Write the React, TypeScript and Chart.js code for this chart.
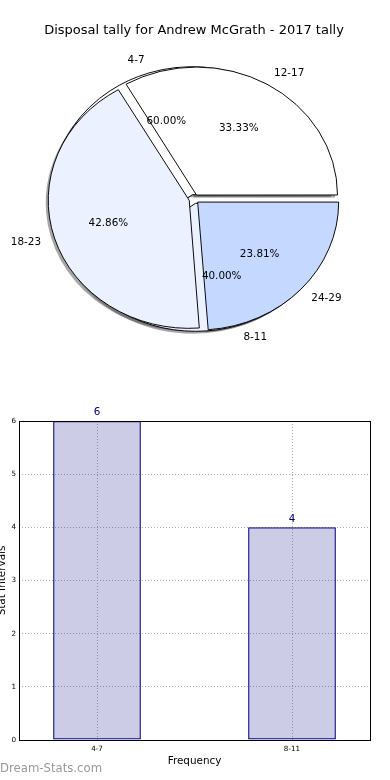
import React, { useEffect, useRef } from 'react';
import { Chart, registerables } from 'chart.js';

Chart.register(...registerables);

// ---------- data ----------
const TITLE = 'Disposal tally for Andrew McGrath - 2017 tally';
const PIE_A_LABELS = ['4-7', '8-11'];
const PIE_A_VALUES = [6, 4];
const PIE_B_LABELS = ['12-17', '18-23', '24-29'];
const PIE_B_VALUES = [7, 9, 5];
const BAR_CATEGORIES = ['4-7', '8-11'];
const BAR_VALUES = [6, 4];
const Y_TICKS = [0, 1, 2, 3, 4, 5, 6];
const X_TITLE = 'Frequency';
const Y_TITLE = 'Stat Intervals';
const WATERMARK = 'Dream-Stats.com';

// ---------- style ----------
const FONT = '"DejaVu Sans", "Liberation Sans", sans-serif';
const PIE_COLORS = ['#ffffff', '#ebf1ff', '#c5d8ff'];
const ELLIPSE_Y = 128 / 141;
const EXPLODE = 20; // chart.js offset, drawn as offset/4 px

function ellipse(ctx: any, cx: number, cy: number) {
  ctx.translate(cx, cy);
  ctx.scale(1, ELLIPSE_Y);
  ctx.translate(-cx, -cy);
}

const piePlugin = {
  id: 'pieGeom',
  afterDatasetsUpdate(chart: any) {
    const m0 = chart.getDatasetMeta(0);
    const R = m0.controller.outerRadius;
    const cx = m0.data[0].x;
    const cy = m0.data[0].y;
    chart.data.datasets.forEach((_: any, d: number) => {
      const meta = chart.getDatasetMeta(d);
      meta.data.forEach((el: any) => {
        const circ = el.endAngle - el.startAngle;
        const off = ((el.options && el.options.offset) || 0) / 4;
        const fix = 1 - Math.sin(Math.min(Math.PI, circ));
        el.x = cx;
        el.y = cy;
        el.innerRadius = 0;
        el.outerRadius = R - off * fix;
      });
    });
    chart.$pieGeom = { cx, cy, R };
  },
  beforeDatasetsDraw(chart: any) {
    const ctx = chart.ctx;
    const { cx, cy, R } = chart.$pieGeom;
    ctx.save();
    ctx.translate(-2.5, 2.5);
    ellipse(ctx, cx, cy);
    ctx.fillStyle = 'rgba(77,77,77,0.5)';
    for (let d = chart.data.datasets.length - 1; d >= 0; d--) {
      chart.getDatasetMeta(d).data.forEach((el: any) => {
        const a = (el.startAngle + el.endAngle) / 2;
        const s = ((el.options && el.options.offset) || 0) / 4;
        const ox = cx + Math.cos(a) * s;
        const oy = cy + Math.sin(a) * s;
        ctx.beginPath();
        ctx.moveTo(ox, oy);
        ctx.arc(ox, oy, R, el.startAngle, el.endAngle);
        ctx.closePath();
        ctx.fill();
      });
    }
    ctx.restore();
    ctx.save();
    ellipse(ctx, cx, cy);
  },
  afterDatasetsDraw(chart: any) {
    const ctx = chart.ctx;
    ctx.restore();
    const { cx, cy, R } = chart.$pieGeom;
    ctx.save();
    ctx.fillStyle = '#000';
    ctx.font = `10.4px ${FONT}`;
    ctx.textBaseline = 'middle';
    chart.data.datasets.forEach((ds: any, d: number) => {
      const total = ds.data.reduce((p: number, v: number) => p + v, 0);
      chart.getDatasetMeta(d).data.forEach((el: any, i: number) => {
        const a = (el.startAngle + el.endAngle) / 2;
        const s = ((el.options && el.options.offset) || 0) / 4;
        const c = Math.cos(a);
        const sn = Math.sin(a);
        const lx = cx + c * (1.1 * R + s);
        const ly = cy + sn * (1.1 * R + s) * ELLIPSE_Y;
        ctx.textAlign = c > 0 ? 'left' : 'right';
        ctx.fillText(ds.sliceLabels[i], lx, ly);
        const px = cx + c * (0.6 * R + s);
        const py = cy + sn * (0.6 * R + s) * ELLIPSE_Y;
        ctx.textAlign = 'center';
        ctx.fillText(((ds.data[i] / total) * 100).toFixed(2) + '%', px, py);
      });
    });
    ctx.restore();
  },
};

const barPlugin = {
  id: 'barDeco',
  afterDraw(chart: any) {
    const ctx = chart.ctx;
    const { left, top, right, bottom } = chart.chartArea;
    ctx.save();
    ctx.strokeStyle = '#000';
    ctx.lineWidth = 1;
    ctx.strokeRect(Math.round(left) + 0.5, Math.round(top) + 0.5, Math.round(right - left), Math.round(bottom - top));
    ctx.fillStyle = '#000080';
    ctx.font = `10.4px ${FONT}`;
    ctx.textAlign = 'center';
    ctx.textBaseline = 'middle';
    chart.getDatasetMeta(0).data.forEach((el: any, i: number) => {
      ctx.fillText(String(BAR_VALUES[i]), el.x, el.y - 8.5);
    });
    ctx.restore();
  },
};

function PieChart() {
  const ref = useRef<HTMLCanvasElement>(null);
  useEffect(() => {
    const mk = (labels: string[], values: number[]) => ({
      data: [...values].reverse(),
      backgroundColor: values.map((_, i) => PIE_COLORS[i % PIE_COLORS.length]).reverse(),
      sliceLabels: [...labels].reverse(),
      borderColor: '#000',
      borderWidth: 1,
      offset: EXPLODE,
      hoverOffset: 0,
    });
    const chart = new Chart(ref.current as HTMLCanvasElement, {
      type: 'pie',
      data: {
        labels: [...PIE_B_LABELS].reverse(),
        datasets: [mk(PIE_B_LABELS, PIE_B_VALUES), mk(PIE_A_LABELS, PIE_A_VALUES)] as any,
      },
      options: {
        animation: false,
        responsive: false,
        rotation: 90,
        radius: 141,
        layout: { padding: { left: 0, right: 2, top: 0, bottom: 21.6 } },
        plugins: {
          legend: { display: false },
          tooltip: { enabled: false },
          title: {
            display: true,
            text: TITLE,
            color: '#000',
            font: { family: FONT, size: 13, weight: 'normal' },
            padding: { top: 22, bottom: 0 },
          },
        },
      } as any,
      plugins: [piePlugin as any],
    });
    return () => chart.destroy();
  }, []);
  return (
    <canvas
      ref={ref}
      width={390}
      height={380}
      style={{ position: 'absolute', left: 0, top: 1, width: 390, height: 380 }}
    />
  );
}

function BarChart() {
  const ref = useRef<HTMLCanvasElement>(null);
  useEffect(() => {
    const tickFont = { family: FONT, size: 7.2 };
    const titleFont = { family: FONT, size: 10.4 };
    const chart = new Chart(ref.current as HTMLCanvasElement, {
      type: 'bar',
      data: {
        datasets: [
          {
            data: BAR_CATEGORIES.map((_, i) => ({ x: i, y: BAR_VALUES[i] })),
            backgroundColor: 'rgba(0,0,128,0.2)',
            borderColor: '#000080',
            borderWidth: 1.2,
            borderSkipped: false,
            barPercentage: 0.45,
            categoryPercentage: 1,
          },
        ],
      },
      options: {
        animation: false,
        responsive: false,
        layout: { padding: { top: 41, right: 20, bottom: 0, left: 0 } },
        plugins: { legend: { display: false }, tooltip: { enabled: false } },
        scales: {
          x: {
            type: 'linear',
            min: -0.4,
            max: 1.4,
            offset: false,
            z: 1,
            afterBuildTicks: (s: any) => {
              s.ticks = BAR_CATEGORIES.map((_, i) => ({ value: i }));
            },
            afterFit: (s: any) => {
              s.height = 40;
            },
            ticks: {
              callback: (v: any) => BAR_CATEGORIES[v] ?? '',
              font: tickFont,
              color: '#000',
              padding: 4.5,
              maxRotation: 0,
              autoSkip: false,
            },
            grid: { color: '#b0b0b0', lineWidth: 1, drawTicks: false, offset: false },
            border: { display: false, dash: [1, 2] },
            title: { display: true, text: X_TITLE, color: '#000', font: titleFont, padding: { top: 0, bottom: 12.5 } },
          },
          y: {
            min: 0,
            max: 6,
            z: 1,
            afterBuildTicks: (s: any) => {
              s.ticks = Y_TICKS.map((v) => ({ value: v }));
            },
            afterFit: (s: any) => {
              s.width = 23;
            },
            ticks: { font: tickFont, color: '#000', padding: 3 },
            grid: { color: '#b0b0b0', lineWidth: 1, drawTicks: false },
            border: { display: false, dash: [1, 2] },
            title: { display: true, text: Y_TITLE, color: '#000', font: titleFont, padding: { top: 0, bottom: 0 } },
          },
        },
      } as any,
      plugins: [barPlugin as any],
    });
    return () => chart.destroy();
  }, []);
  return (
    <canvas
      ref={ref}
      width={394}
      height={400}
      style={{ position: 'absolute', left: -4, top: 380, width: 394, height: 400 }}
    />
  );
}

export default function App() {
  return (
    <div
      style={{
        position: 'absolute',
        left: 0,
        top: 0,
        width: 390,
        height: 780,
        overflow: 'hidden',
        background: '#fff',
      }}
    >
      <PieChart />
      <BarChart />
      <div
        style={{
          position: 'absolute',
          left: 0,
          top: 763,
          fontFamily: FONT,
          fontSize: 11.7,
          lineHeight: 1,
          color: '#999',
          whiteSpace: 'nowrap',
        }}
      >
        {WATERMARK}
      </div>
    </div>
  );
}
